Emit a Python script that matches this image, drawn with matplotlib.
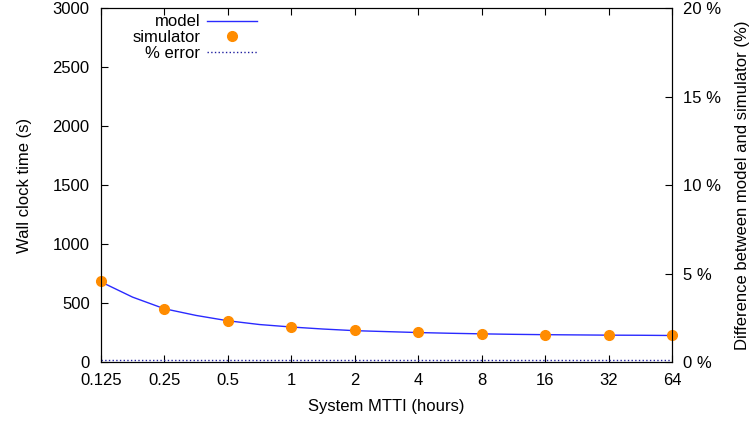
import numpy as np
import matplotlib
matplotlib.use('Agg')
import matplotlib.pyplot as plt

# System MTTI (hours)
mtti = [0.125, 0.25, 0.5, 1, 2, 4, 8, 16, 32, 64]
sim_time = [690, 450, 347, 297, 268, 252, 240, 232, 229, 226]

# model curve, read at half-octave steps
model_x = [0.125, 0.177, 0.25, 0.354, 0.5, 0.707, 1, 1.41, 2, 2.83, 4,
           5.66, 8, 11.3, 16, 22.6, 32, 45.3, 64]
model_y = [680, 550, 452, 395, 350, 318, 297, 280, 266, 258, 250,
           244, 239, 235, 232, 230, 228, 227, 225]

# % error between model and simulator
err_pct = [0.1, 0.1, 0.1, 0.1, 0.1, 0.1, 0.1, 0.1, 0.1, 0.1]

plt.rcParams['font.family'] = ['Liberation Sans', 'DejaVu Sans']
plt.rcParams['font.size'] = 12

fig = plt.figure(figsize=(7.52, 4.21), dpi=100)
ax = fig.add_axes([0.134, 0.140, 0.760, 0.841])
ax2 = ax.twinx()

ax.set_xscale('log', base=2)
l1, = ax.plot(model_x, model_y, color='#2a2aff', lw=1.0, label='model')
l2, = ax.plot(mtti, sim_time, 'o', color='#ff8c00', ms=7, label='simulator',
              clip_on=False, zorder=5)
l3, = ax2.plot(mtti, err_pct, ':', color='#2020a0', lw=1.0, label='% error')

ax.set_xlim(0.125, 64)
ax.set_ylim(0, 3000)
ax2.set_ylim(0, 20)
ax.set_xticks(mtti)
ax.set_xticklabels(['0.125', '0.25', '0.5', '1', '2', '4', '8', '16', '32', '64'])
ax.minorticks_off()
ax.set_yticks(np.arange(0, 3001, 500))
ax2.set_yticks([0, 5, 10, 15, 20])
ax2.set_yticklabels(['0 %', '5 %', '10 %', '15 %', '20 %'])

ax.tick_params(direction='in', length=5, top=True, pad=8)
ax2.tick_params(direction='in', length=5, pad=8)

ax.set_xlabel('System MTTI (hours)', labelpad=8)
ax.set_ylabel('Wall clock time (s)', labelpad=15)
ax2.set_ylabel('Difference between model and simulator (%)', labelpad=10)

ax.legend(handles=[l1, l2, l3], loc='upper left', bbox_to_anchor=(0.035, 1.015),
          frameon=False, markerfirst=False, handlelength=3.0,
          labelspacing=0.05, borderpad=0.2, handletextpad=0.4)

fig.savefig('out.png', dpi=100)
